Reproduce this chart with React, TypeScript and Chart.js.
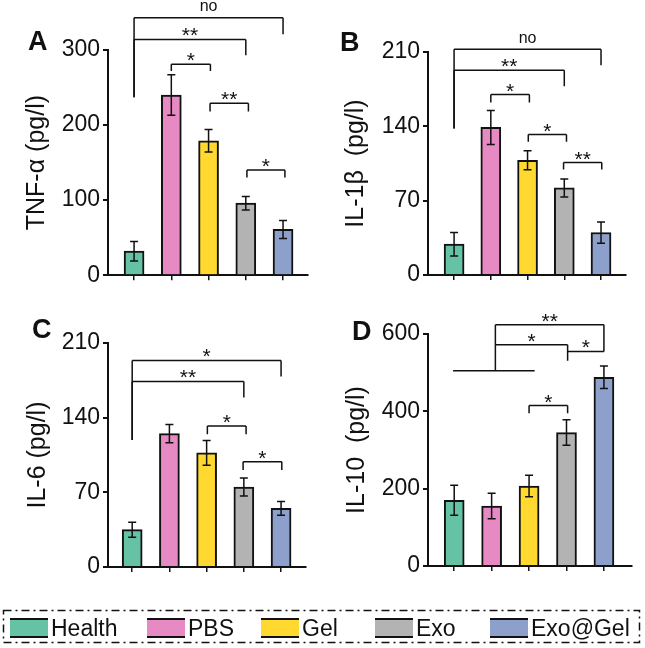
import React, { useEffect, useRef } from 'react';
import { Chart, registerables } from 'chart.js';

Chart.register(...registerables);
Chart.defaults.font.family = "'Liberation Sans', Arial, sans-serif";

// ---------- data ----------
const groups = ['Health', 'PBS', 'Gel', 'Exo', 'Exo@Gel'];
const groupColors = ['#66c2a5', '#e78ac3', '#ffd92f', '#b3b3b3', '#8da0cb'];

const tnfMean = [32, 240, 179, 96, 61];
const tnfErr = [13, 27, 15, 9, 12];
const il1bMean = [29, 139, 108, 82, 40];
const il1bErr = [11, 16, 9, 8.5, 10];
const il6Mean = [35, 125, 107, 75, 55];
const il6Err = [7, 8.5, 11.5, 8.5, 6.5];
const il10Mean = [170, 155, 207, 345, 488];
const il10Err = [39, 33, 28, 33, 29];

const tnfTicks = [0, 100, 200, 300];
const il1bTicks = [0, 70, 140, 210];
const il6Ticks = [0, 70, 140, 210];
const il10Ticks = [0, 200, 400, 600];

// significance brackets (group index from/to, level in pg/l, leg ends, label)
type Sig = { a: number; b: number; y: number; la: number | null; lb: number | null; t: string };
const tnfSig: Sig[] = [
  { a: 0, b: 4, y: 343, la: 237, lb: 321, t: 'no' },
  { a: 0, b: 3, y: 314, la: 237, lb: 293, t: '**' },
  { a: 1, b: 2.05, y: 281, la: 272, lb: 272, t: '*' },
  { a: 2.04, b: 3.07, y: 229, la: 218, lb: 218, t: '**' },
  { a: 3.03, b: 4.05, y: 140, la: 130, lb: 130, t: '*' },
];
const il1bSig: Sig[] = [
  { a: 0, b: 4, y: 212.5, la: 138, lb: 197.5, t: 'no' },
  { a: 0, b: 3, y: 192.8, la: 138, lb: 177.7, t: '**' },
  { a: 1, b: 2.05, y: 169.9, la: 162.4, lb: 162.4, t: '*' },
  { a: 2.02, b: 3.06, y: 132.3, la: 125.4, lb: 125.4, t: '*' },
  { a: 2.98, b: 4.02, y: 105.9, la: 99.4, lb: 99.4, t: '**' },
];
const il6Sig: Sig[] = [
  { a: 0, b: 4, y: 193.7, la: 119.1, lb: 178.7, t: '*' },
  { a: 0, b: 3, y: 174, la: 119.1, lb: 158.9, t: '**' },
  { a: 2.02, b: 3.06, y: 132.3, la: 124.4, lb: 124.4, t: '*' },
  { a: 2.98, b: 4.02, y: 98.7, la: 90.9, lb: 90.9, t: '*' },
];
const il10Sig: Sig[] = [
  { a: -0.03, b: 2.15, y: 504.9, la: null, lb: null, t: '' },
  { a: 1.1, b: 4, y: 624.2, la: 504.9, lb: 555, t: '**' },
  { a: 1.1, b: 3.03, y: 572.3, la: null, lb: 530.8, t: '*' },
  { a: 3.03, b: 4, y: 555, la: null, lb: null, t: '*' },
  { a: 2, b: 3.03, y: 415, la: 395, lb: 395, t: '*' },
];

// ---------- layout ----------
type Panel = {
  letter: string; title: string; means: number[]; errs: number[]; ticks: number[]; sig: Sig[];
  left: number; top: number; w: number; h: number;
  padLeft: number; areaLeft: number; areaRight: number; areaTop: number; areaBottom: number;
  xMin: number; xMax: number; letterX: number; letterY: number;
};

const panels: Panel[] = [
  { letter: 'A', title: 'TNF-α (pg/l)', means: tnfMean, errs: tnfErr, ticks: tnfTicks, sig: tnfSig,
    left: 0, top: 0, w: 322, h: 292, padLeft: 22, areaLeft: 108, areaRight: 308, areaTop: 50, areaBottom: 277,
    xMin: -0.7, xMax: 4.67, letterX: 28, letterY: 28 },
  { letter: 'B', title: 'IL-1β  (pg/l)', means: il1bMean, errs: il1bErr, ticks: il1bTicks, sig: il1bSig,
    left: 322, top: 0, w: 323, h: 292, padLeft: 19, areaLeft: 106, areaRight: 304, areaTop: 52, areaBottom: 275,
    xMin: -0.71, xMax: 4.68, letterX: 340, letterY: 29 },
  { letter: 'C', title: 'IL-6 (pg/l)', means: il6Mean, errs: il6Err, ticks: il6Ticks, sig: il6Sig,
    left: 0, top: 292, w: 322, h: 300, padLeft: 23, areaLeft: 108, areaRight: 306, areaTop: 51, areaBottom: 275,
    xMin: -0.65, xMax: 4.67, letterX: 32, letterY: 316 },
  { letter: 'D', title: 'IL-10  (pg/l)', means: il10Mean, errs: il10Err, ticks: il10Ticks, sig: il10Sig,
    left: 322, top: 292, w: 323, h: 300, padLeft: 20, areaLeft: 106, areaRight: 310, areaTop: 42, areaBottom: 274,
    xMin: -0.7, xMax: 4.75, letterX: 352, letterY: 318 },
];

const FONT = "'Liberation Sans', Arial, sans-serif";

function makeAnnot(p: Panel) {
  return {
    id: 'annot' + p.letter,
    afterDatasetsDraw(chart: any) {
      const { ctx } = chart;
      const xs = chart.scales.x;
      const ys = chart.scales.y;
      ctx.save();
      ctx.strokeStyle = '#111';
      ctx.fillStyle = '#111';
      ctx.lineWidth = 1.5;
      // error bars
      p.means.forEach((m, i) => {
        const x = xs.getPixelForValue(i);
        const t = ys.getPixelForValue(m + p.errs[i]);
        const b = ys.getPixelForValue(m - p.errs[i]);
        ctx.beginPath();
        ctx.moveTo(x, t); ctx.lineTo(x, b);
        ctx.moveTo(x - 4, t); ctx.lineTo(x + 4, t);
        ctx.moveTo(x - 4, b); ctx.lineTo(x + 4, b);
        ctx.stroke();
      });
      // brackets
      p.sig.forEach((s) => {
        const x1 = xs.getPixelForValue(s.a);
        const x2 = xs.getPixelForValue(s.b);
        const y = ys.getPixelForValue(s.y);
        ctx.beginPath();
        ctx.moveTo(x1, y); ctx.lineTo(x2, y);
        if (s.la !== null) { ctx.moveTo(x1, y); ctx.lineTo(x1, ys.getPixelForValue(s.la)); }
        if (s.lb !== null) { ctx.moveTo(x2, y); ctx.lineTo(x2, ys.getPixelForValue(s.lb)); }
        ctx.stroke();
        if (s.t) {
          ctx.textAlign = 'center';
          ctx.textBaseline = 'alphabetic';
          const cx = (x1 + x2) / 2;
          if (s.t === 'no') {
            ctx.font = `16px ${FONT}`;
            ctx.fillText(s.t, cx, y - 6.5);
          } else {
            ctx.font = `21px ${FONT}`;
            ctx.fillText(s.t, cx, y + 3);
          }
        }
      });
      ctx.restore();
    },
  };
}

function PanelChart({ p }: { p: Panel }) {
  const ref = useRef<HTMLCanvasElement | null>(null);
  useEffect(() => {
    if (!ref.current) return;
    const chart = new Chart(ref.current, {
      type: 'bar',
      data: {
        datasets: [
          {
            data: p.means.map((v, i) => ({ x: i, y: v })),
            backgroundColor: groupColors,
            borderColor: '#111',
            borderWidth: 2,
            barThickness: 20,
          },
        ],
      },
      options: {
        responsive: false,
        animation: false,
        layout: {
          padding: {
            left: p.padLeft,
            top: p.areaTop,
            right: p.w - p.areaRight,
            bottom: p.h - p.areaBottom - 8,
          },
        },
        plugins: { legend: { display: false }, tooltip: { enabled: false } },
        scales: {
          x: {
            type: 'linear',
            offset: false,
            min: p.xMin,
            max: p.xMax,
            afterBuildTicks: (s: any) => { s.ticks = groups.map((_, i) => ({ value: i })); },
            afterFit: (s: any) => { s.height = 8; },
            grid: { display: true, offset: false, drawOnChartArea: false, drawTicks: true, tickLength: 5, color: '#111', lineWidth: 1.5 },
            border: { display: true, color: '#111', width: 2 },
            ticks: { display: false },
          },
          y: {
            min: 0,
            max: p.ticks[p.ticks.length - 1],
            afterBuildTicks: (s: any) => { s.ticks = p.ticks.map((v) => ({ value: v })); },
            afterFit: (s: any) => { s.width = p.areaLeft - p.padLeft; },
            grid: { drawOnChartArea: false, drawTicks: true, tickLength: 5, color: '#111', lineWidth: 2 },
            border: { display: true, color: '#111', width: 2 },
            ticks: { color: '#111', font: { size: 23 }, padding: 3 },
            title: { display: true, text: p.title, color: '#111', font: { size: 25 }, padding: 0 },
          },
        },
      } as any,
      plugins: [makeAnnot(p)],
    });
    return () => chart.destroy();
  }, [p]);
  return (
    <canvas
      ref={ref}
      width={p.w}
      height={p.h}
      style={{ position: 'absolute', left: p.left, top: p.top, width: p.w, height: p.h }}
    />
  );
}

const legendX = [10, 147, 261, 375, 490];

export default function App() {
  return (
    <div style={{ position: 'absolute', left: 0, top: 0, width: 645, height: 648, background: '#fff', overflow: 'hidden', fontFamily: FONT }}>
      {panels.map((p) => (
        <PanelChart key={p.letter} p={p} />
      ))}
      {panels.map((p) => (
        <div key={'l' + p.letter} style={{ position: 'absolute', left: p.letterX, top: p.letterY, fontSize: 27, lineHeight: '27px', fontWeight: 'bold', color: '#111' }}>
          {p.letter}
        </div>
      ))}
      <svg width={645} height={648} style={{ position: 'absolute', left: 0, top: 0, pointerEvents: 'none' }}>
        <rect x={3.5} y={610.5} width={636} height={32} fill="none" stroke="#111" strokeWidth={1.5} strokeDasharray="8 4 2 4" />
      </svg>
      {groups.map((g, i) => (
        <div key={g} style={{ position: 'absolute', left: legendX[i], top: 617, height: 23, display: 'flex', alignItems: 'flex-start' }}>
          <div style={{ width: 38, height: 16, marginTop: 1, background: groupColors[i], borderTop: '2px solid #111', borderBottom: '2px solid #111' }} />
          <span style={{ marginLeft: 3, fontSize: 23, lineHeight: '23px', color: '#111', whiteSpace: 'nowrap' }}>{g}</span>
        </div>
      ))}
    </div>
  );
}
